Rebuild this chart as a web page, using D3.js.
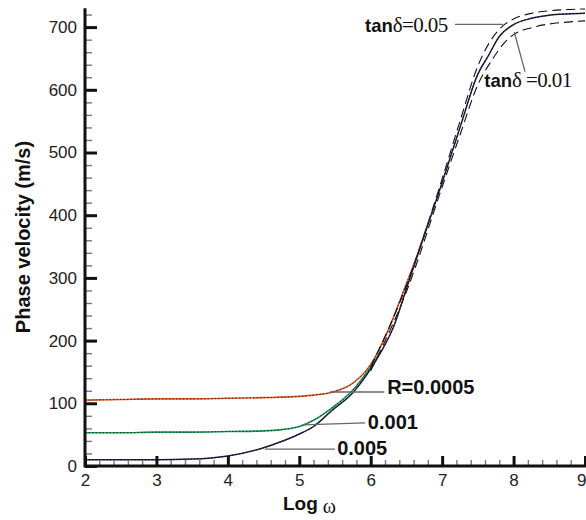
<!DOCTYPE html>
<html>
<head>
<meta charset="utf-8">
<script src="https://cdn.jsdelivr.net/npm/d3@7/dist/d3.min.js"></script>
<style>
  html, body { margin: 0; padding: 0; background: #fff; }
  svg { display: block; }
</style>
</head>
<body>
<svg id="chart" width="586" height="520"></svg>
<script>
// ---------- data ----------
const xDomain = [2, 9];
const yDomain = [0, 730];
const xTicks = [2, 3, 4, 5, 6, 7, 8, 9];
const yTicks = [0, 100, 200, 300, 400, 500, 600, 700];

// main (solid) curve, also R = 0.005 branch
const mainX = [2, 2.5, 3, 3.5, 4, 4.5, 4.75, 5, 5.2, 5.45, 5.75, 6.0, 6.15, 6.32, 6.5, 6.75, 7.0, 7.25, 7.5, 7.65, 7.8, 8.0, 8.25, 8.5, 8.75, 9];
const mainY = [10, 10, 10, 11, 16, 29, 39, 51, 63, 88, 117, 155, 183, 222, 283, 368, 452, 540, 625, 655, 685, 704, 714, 719, 721, 722];

// R = 0.0005
const r0005X = [2, 2.5, 3, 3.5, 4, 4.5, 5, 5.2, 5.47, 5.75, 6.0, 6.25, 6.45, 6.65, 6.8];
const r0005Y = [105, 106, 107, 107, 108, 109, 111, 113, 118, 132, 162, 218, 276, 336, 386];

// R = 0.001
const r001X = [2, 2.5, 3, 3.5, 4, 4.5, 4.75, 5, 5.2, 5.45, 5.74, 5.95, 6.15];
const r001Y = [53, 53, 54, 54, 55, 56, 58, 63, 73, 92, 120, 150, 184];

// tan delta = 0.05 (upper dashed)
const tan05X = [6.0, 6.5, 7.0, 7.25, 7.5, 7.7, 7.85, 8.0, 8.25, 8.5, 8.75, 9];
const tan05Y = [158, 288, 458, 550, 638, 682, 702, 713, 722, 726, 728, 729];

// tan delta = 0.01 (lower dashed)
const tan01X = [6.0, 6.5, 7.0, 7.25, 7.5, 7.7, 7.85, 8.0, 8.25, 8.5, 8.75, 9];
const tan01Y = [152, 278, 445, 528, 608, 648, 672, 688, 699, 705, 708, 710];

// annotations (data units)
const rLabels = [
  { text: "R=0.0005", tx: 6.23, ty: 115, x1: 5.43, y1: 118, x2: 6.19, y2: 118 },
  { text: "0.001",    tx: 5.96, ty: 59,  x1: 5.05, y1: 65.5, x2: 5.92, y2: 68.7 },
  { text: "0.005",    tx: 5.53, ty: 17.6, x1: 4.52, y1: 27, x2: 5.50, y2: 27 }
];
const tanLabels = [
  { val: "=0.05", space: "", tx: 5.92, ty: 692, x1: 7.18, y1: 704.5, x2: 7.85, y2: 704.5 },
  { val: "=0.01", space: " ", tx: 7.59, ty: 604, x1: 8.01, y1: 692, x2: 8.16, y2: 629 }
];

// ---------- layout ----------
const svg = d3.select("#chart");
const x = d3.scaleLinear().domain(xDomain).range([85, 585]);
const y = d3.scaleLinear().domain(yDomain).range([466, 8.3]);

const zip = (xs, ys) => xs.map((v, i) => [v, ys[i]]);
const line = d3.line().x(d => x(d[0])).y(d => y(d[1])).curve(d3.curveMonotoneX);

// curves
const g = svg.append("g");
// R=0.0005 orange
g.append("path").attr("d", line(zip(r0005X, r0005Y)))
  .attr("fill", "none").attr("stroke", "#ea5a22").attr("stroke-width", 1.6);
g.append("path").attr("d", line(zip(r0005X, r0005Y)))
  .attr("fill", "none").attr("stroke", "#111").attr("stroke-width", 0.8).attr("stroke-dasharray", "1.5,2");
// R=0.001 green
g.append("path").attr("d", line(zip(r001X, r001Y)))
  .attr("fill", "none").attr("stroke", "#19a05a").attr("stroke-width", 1.6);
g.append("path").attr("d", line(zip(r001X, r001Y)))
  .attr("fill", "none").attr("stroke", "#111").attr("stroke-width", 0.8).attr("stroke-dasharray", "1.5,2");
// dashed tan delta curves
g.append("path").attr("d", line(zip(tan05X, tan05Y)))
  .attr("fill", "none").attr("stroke", "#111").attr("stroke-width", 1.1).attr("stroke-dasharray", "9,5");
g.append("path").attr("d", line(zip(tan01X, tan01Y)))
  .attr("fill", "none").attr("stroke", "#111").attr("stroke-width", 1.1).attr("stroke-dasharray", "9,5");
// main
g.append("path").attr("d", line(zip(mainX, mainY)))
  .attr("fill", "none").attr("stroke", "#2a2a55").attr("stroke-width", 1.5);
g.append("path").attr("d", line(zip(mainX, mainY)))
  .attr("fill", "none").attr("stroke", "#000").attr("stroke-width", 0.8).attr("stroke-dasharray", "2,1.5");

// leader lines
const leaders = rLabels.concat(tanLabels);
svg.append("g").selectAll("line").data(leaders).join("line")
  .attr("x1", d => x(d.x1)).attr("y1", d => y(d.y1))
  .attr("x2", d => x(d.x2)).attr("y2", d => y(d.y2))
  .attr("stroke", "#666").attr("stroke-width", 1.3);

// R labels
svg.append("g").selectAll("text").data(rLabels).join("text")
  .attr("x", d => x(d.tx)).attr("y", d => y(d.ty))
  .attr("font-family", "'Liberation Sans', Arial, sans-serif")
  .attr("font-weight", "bold").attr("font-size", 20).attr("fill", "#111")
  .text(d => d.text);

// tan labels
const tl = svg.append("g").selectAll("text").data(tanLabels).join("text")
  .attr("x", d => x(d.tx)).attr("y", d => y(d.ty)).attr("fill", "#111");
tl.append("tspan").attr("font-family", "'Liberation Sans', Arial, sans-serif")
  .attr("font-weight", "bold").attr("font-size", 18.5).text("tan");
tl.append("tspan").attr("font-family", "'Liberation Serif', 'Times New Roman', serif")
  .attr("font-size", 21).attr("letter-spacing", -0.6).text(d => "δ" + d.space + d.val);

// ---------- axes ----------
const axisFont = "'Liberation Sans', Arial, sans-serif";
// minor ticks
const xMinor = d3.range(2, 9.001, 0.2).filter(v => Math.abs(v - Math.round(v)) > 1e-6);
const yMinor = d3.range(0, 730, 20).filter(v => v % 100 !== 0);

const xMinorAxis = d3.axisBottom(x).tickValues(xMinor).tickSize(-6).tickFormat("");
const yMinorAxis = d3.axisLeft(y).tickValues(yMinor).tickSize(-7).tickFormat("");
const gxm = svg.append("g").attr("transform", "translate(0,466)").call(xMinorAxis);
const gym = svg.append("g").attr("transform", "translate(85,0)").call(yMinorAxis);
[gxm, gym].forEach(a => {
  a.select(".domain").remove();
  a.selectAll("line").attr("stroke", "#777").attr("stroke-width", 1.4);
});

const xAxis = d3.axisBottom(x).tickValues(xTicks).tickSize(-10).tickPadding(8).tickFormat(d3.format("d"));
const yAxis = d3.axisLeft(y).tickValues(yTicks).tickSize(-12).tickPadding(8).tickFormat(d3.format("d"));
const gx = svg.append("g").attr("transform", "translate(0,466)").call(xAxis);
const gy = svg.append("g").attr("transform", "translate(85,0)").call(yAxis);
[gx, gy].forEach(a => {
  a.select(".domain").attr("stroke", "#111").attr("stroke-width", 3);
  a.selectAll(".tick line").attr("stroke", "#111").attr("stroke-width", 3);
  a.selectAll(".tick text").attr("font-family", axisFont).attr("font-size", 17).attr("fill", "#222");
});
// keep the last x tick label inside the window
gx.selectAll(".tick text").filter(d => d === xDomain[1])
  .attr("text-anchor", "end").attr("x", 586 - x(xDomain[1]));
gx.select(".domain").attr("d", "M85,0H586");
gy.select(".domain").attr("d", "M0,467.5V8.3");

// axis titles
svg.append("text")
  .attr("transform", "translate(30,237) rotate(-90)")
  .attr("text-anchor", "middle")
  .attr("font-family", axisFont).attr("font-weight", "bold").attr("font-size", 20).attr("fill", "#111")
  .text("Phase velocity (m/s)");

const xt = svg.append("text").attr("x", 283).attr("y", 510).attr("fill", "#111");
xt.append("tspan").attr("font-family", axisFont).attr("font-weight", "bold").attr("font-size", 19).text("Log");
xt.append("tspan").attr("font-family", "'Liberation Serif', 'Times New Roman', serif")
  .attr("font-size", 20).attr("dx", 5).attr("dy", 3).text("ω");
</script>
</body>
</html>
